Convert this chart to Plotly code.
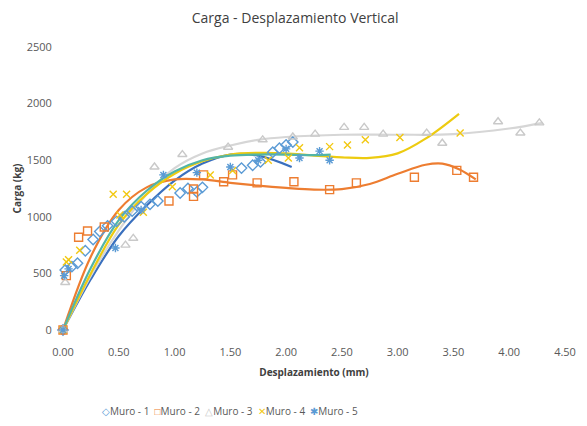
import plotly.graph_objects as go

# ---------------- data ----------------
m1_x = [0.00, 0.02, 0.08, 0.13, 0.20, 0.27, 0.33, 0.40, 0.48, 0.55, 0.62, 0.70, 0.78, 0.85, 1.05, 1.12, 1.20, 1.25, 1.60, 1.70, 1.77, 1.88, 1.94, 2.00, 2.06]
m1_y = [0, 530, 560, 590, 700, 800, 870, 920, 960, 1000, 1050, 1090, 1110, 1140, 1210, 1250, 1220, 1260, 1430, 1455, 1485, 1570, 1605, 1635, 1660]

m2_x = [0.00, 0.03, 0.14, 0.22, 0.37, 0.95, 1.17, 1.17, 1.26, 1.44, 1.52, 1.74, 2.07, 2.39, 2.63, 3.15, 3.53, 3.68]
m2_y = [0, 480, 820, 875, 910, 1140, 1180, 1245, 1370, 1310, 1370, 1300, 1310, 1240, 1300, 1350, 1410, 1350]

m3_x = [0.00, 0.02, 0.56, 0.63, 0.82, 1.07, 1.48, 1.79, 2.06, 2.26, 2.52, 2.70, 2.87, 3.26, 3.40, 3.90, 4.10, 4.27]
m3_y = [0, 420, 750, 810, 1440, 1550, 1615, 1680, 1705, 1730, 1790, 1790, 1730, 1740, 1650, 1840, 1740, 1830]

m4_x = [0.00, 0.03, 0.05, 0.15, 0.45, 0.51, 0.57, 0.72, 0.98, 1.32, 1.52, 1.84, 2.02, 2.12, 2.39, 2.55, 2.71, 3.02, 3.56]
m4_y = [0, 600, 620, 705, 1200, 1015, 1200, 1040, 1265, 1370, 1410, 1500, 1520, 1610, 1620, 1635, 1680, 1700, 1740]

m5_x = [0.00, 0.01, 0.05, 0.47, 0.70, 0.90, 1.20, 1.50, 1.75, 2.00, 2.12, 2.30, 2.39]
m5_y = [0, 480, 540, 725, 1060, 1370, 1390, 1440, 1500, 1600, 1520, 1580, 1500]

# trendlines
t1_x = [0.00, 0.25, 0.50, 0.75, 1.00, 1.25, 1.50, 1.75, 2.05]
t1_y = [0, 450, 830, 1100, 1320, 1470, 1550, 1540, 1440]

t2_x = [0.00, 0.25, 0.50, 0.75, 1.00, 1.25, 1.50, 1.75, 2.00, 2.25, 2.50, 2.75, 3.00, 3.25, 3.40, 3.55, 3.70]
t2_y = [0, 650, 1060, 1260, 1330, 1330, 1300, 1275, 1255, 1240, 1245, 1290, 1380, 1460, 1470, 1420, 1330]

t3_x = [0.00, 0.25, 0.50, 0.75, 1.00, 1.25, 1.50, 1.75, 2.00, 2.50, 3.00, 3.50, 4.00, 4.30]
t3_y = [0, 480, 880, 1200, 1430, 1560, 1630, 1680, 1705, 1725, 1725, 1730, 1780, 1830]

t4_x = [0.00, 0.25, 0.50, 0.75, 1.00, 1.25, 1.50, 1.75, 2.00, 2.25, 2.50, 2.75, 3.00, 3.25, 3.55]
t4_y = [0, 500, 930, 1200, 1380, 1490, 1550, 1565, 1560, 1540, 1525, 1520, 1560, 1690, 1910]

t5_x = [0.00, 0.25, 0.50, 0.75, 1.00, 1.25, 1.50, 1.75, 2.00, 2.25, 2.40]
t5_y = [0, 550, 970, 1230, 1400, 1500, 1540, 1550, 1550, 1545, 1550]

names = ["Muro - 1", "Muro - 2", "Muro - 3", "Muro - 4", "Muro - 5"]
x_ticks = [0, 0.5, 1.0, 1.5, 2.0, 2.5, 3.0, 3.5, 4.0, 4.5]
y_ticks = [0, 500, 1000, 1500, 2000, 2500]

# ---------------- styling ----------------
marker_cols = ["#5B9BD5", "#ED7D31", "#C9C9C9", "#F2C811", "#5B9BD5"]
line_cols = ["#3A70BE", "#ED7D31", "#D6D6D6", "#EDCB10", "#52B5A6"]
symbols = ["diamond-open", "square-open", "triangle-up-open", "x-thin-open", "asterisk-open"]
marker_sizes = [8, 8, 8, 7, 7]
legend_glyphs = ["\u25C7", "\u25A1", "\u25B3", "\u2715", "\u2731"]

fig = go.Figure()

trends = [(t1_x, t1_y), (t2_x, t2_y), (t3_x, t3_y), (t4_x, t4_y), (t5_x, t5_y)]
for i, (tx, ty) in enumerate(trends):
    fig.add_trace(go.Scatter(x=tx, y=ty, mode="lines", showlegend=False,
                             line=dict(color=line_cols[i], width=2.2, shape="spline", smoothing=1.0),
                             hoverinfo="skip", cliponaxis=False))

series = [(m1_x, m1_y), (m2_x, m2_y), (m3_x, m3_y), (m4_x, m4_y), (m5_x, m5_y)]
for i, (sx, sy) in enumerate(series):
    fig.add_trace(go.Scatter(x=sx, y=sy, mode="markers", name=names[i], showlegend=False,
                             marker=dict(symbol=symbols[i], size=marker_sizes[i], color=marker_cols[i],
                                         line=dict(color=marker_cols[i], width=1.4)),
                             cliponaxis=False))

# compact legend as one line of text (Excel-style spacing)
legend_text = "&nbsp;&nbsp;".join(
    f"<span style='color:{marker_cols[i]}'>{legend_glyphs[i]}</span>{names[i]}" for i in range(5)
)
fig.add_annotation(text=legend_text, xref="paper", yref="paper", x=0.333, y=-0.286,
                   xanchor="center", yanchor="middle", showarrow=False,
                   font=dict(size=10, color="#595959"))

# the page adds an 8px body margin, so the figure is sized to fit the 587x426 window
fig.update_layout(
    width=579, height=418,
    paper_bgcolor="white", plot_bgcolor="white",
    margin=dict(l=55, r=22, t=39, b=96, autoexpand=False),
    font=dict(family="Open Sans, Liberation Sans, sans-serif", size=11, color="#595959"),
    showlegend=False,
    title=dict(text="Carga - Desplazamiento Vertical", x=0.496, xanchor="center",
               y=0.976, yanchor="middle", font=dict(size=14, color="#404040")),
    xaxis=dict(range=[0, 4.5], tickvals=x_ticks, tickformat=".2f", showgrid=False,
               zeroline=False, showline=False, ticks="outside", ticklen=12,
               tickcolor="rgba(0,0,0,0)", automargin=False,
               tickfont=dict(size=11, color="#595959"),
               title=dict(text="<b>Desplazamiento (mm)</b>", font=dict(size=10, color="#404040"), standoff=10)),
    yaxis=dict(range=[0, 2500], tickvals=y_ticks, showgrid=False, zeroline=False,
               showline=False, ticks="outside", ticklen=8, tickcolor="rgba(0,0,0,0)",
               automargin=False, tickfont=dict(size=11, color="#595959"),
               title=dict(text="<b>Carga (kg)</b>", font=dict(size=10, color="#404040"), standoff=3)),
)

fig.write_html("out.html")
